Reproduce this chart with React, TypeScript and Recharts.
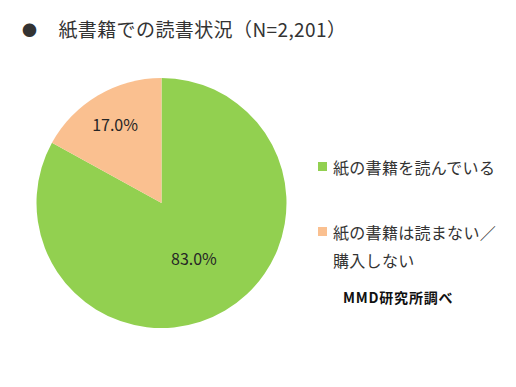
import React from 'react';
import { PieChart, Pie, Cell, Legend } from 'recharts';

const TITLE = '紙書籍での読書状況（N=2,201）';
const SOURCE = 'MMD研究所調べ';

const categories = ['紙の書籍を読んでいる', '紙の書籍は読まない／購入しない'];
const shares = [83.0, 17.0];

const COLORS = ['#92D050', '#FAC090'];
// how far out each slice label sits, as a fraction of the radius
const LABEL_RADIUS = [0.51, 0.73];

const FONT = '"Noto Sans CJK JP", "Noto Sans", sans-serif';
const RAD = Math.PI / 180;

const data = categories.map((name, i) => ({ name, value: shares[i] }));

const renderLabel = (props: any) => {
  const { cx, cy, midAngle, outerRadius, value, index } = props;
  const r = outerRadius * LABEL_RADIUS[index];
  const x = cx + r * Math.cos(-midAngle * RAD);
  const y = cy + r * Math.sin(-midAngle * RAD);
  return (
    <text
      x={x}
      y={y}
      fill="#262626"
      fontSize={16}
      fontFamily={FONT}
      textAnchor="middle"
      dominantBaseline="central"
    >
      {`${value.toFixed(1)}%`}
    </text>
  );
};

const LegendContent = () => (
  <div style={{ fontFamily: FONT, color: '#333' }}>
    {categories.map((name, i) => (
      <div
        key={name}
        style={{
          position: 'relative',
          paddingLeft: 15,
          width: 172,
          fontSize: 16,
          letterSpacing: 0.3,
          lineHeight: '28px',
          marginBottom: i === 0 ? 37 : 0,
        }}
      >
        <span
          style={{
            position: 'absolute',
            left: 0,
            top: 9,
            width: 9,
            height: 9,
            background: COLORS[i],
          }}
        />
        {name}
      </div>
    ))}
  </div>
);

export default function App() {
  return (
    <div
      style={{
        position: 'absolute',
        left: 0,
        top: 0,
        width: 516,
        height: 387,
        background: '#fff',
        fontFamily: FONT,
      }}
    >
      <div
        style={{
          position: 'absolute',
          left: 22,
          top: 15,
          fontSize: 19,
          lineHeight: '28px',
          color: '#333',
          whiteSpace: 'nowrap',
          letterSpacing: 0.4,
        }}
      >
        <span style={{ fontSize: 15, marginRight: 21, position: 'relative', top: -1 }}>●</span>
        {TITLE}
      </div>
      <PieChart width={516} height={387} margin={{ top: 0, right: 0, bottom: 0, left: 0 }}>
        <Pie
          data={data}
          dataKey="value"
          nameKey="name"
          cx={161.5}
          cy={203}
          outerRadius={125}
          startAngle={90}
          endAngle={-270}
          stroke="none"
          labelLine={false}
          label={renderLabel}
          isAnimationActive={false}
        >
          {data.map((entry, i) => (
            <Cell key={entry.name} fill={COLORS[i]} />
          ))}
        </Pie>
        <Legend
          content={<LegendContent />}
          wrapperStyle={{ position: 'absolute', left: 318, top: 153, width: 190 }}
        />
      </PieChart>
      <div
        style={{
          position: 'absolute',
          left: 343,
          top: 287,
          fontSize: 14,
          lineHeight: '20px',
          fontWeight: 'bold',
          letterSpacing: 0.8,
          color: '#111',
          whiteSpace: 'nowrap',
        }}
      >
        {SOURCE}
      </div>
    </div>
  );
}
